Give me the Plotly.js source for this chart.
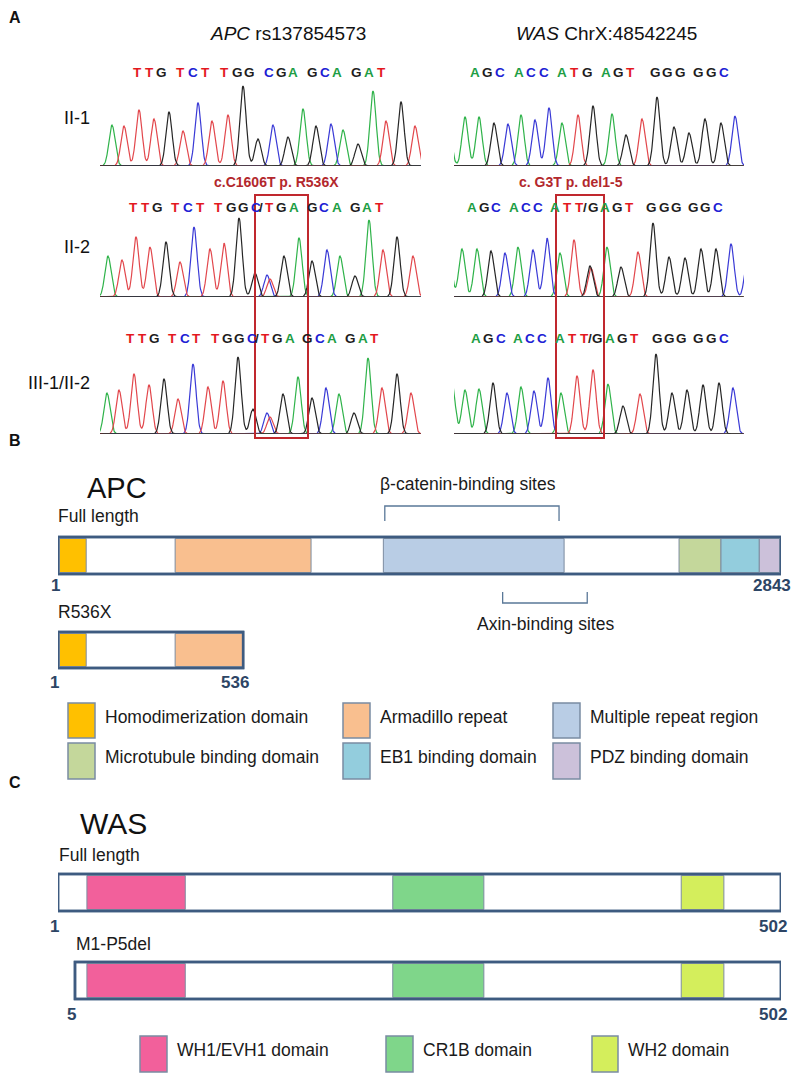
<!DOCTYPE html>
<html><head><meta charset="utf-8">
<script src="https://cdn.plot.ly/plotly-3.0.1.min.js"></script>
<style>html,body{margin:0;padding:0;background:#fff}#chart{width:800px;height:1079px}</style>
</head><body><div id="chart"></div>
<script>
// ================= DATA =================
// Panel A: chromatogram peaks (scan position, signal height, base call)
const apcII1Pos  = [12,24,39,54,69,83,98,112,128,143,158,173,188,203,216,231,243,258,273,286,301,315];
const apcII1Ht   = [41,40,56,47,54,35,63,45,51,80,27,41,29,57,40,42,36,22,75,45,64,40];
const apcII1Base = "ATTTGTCTTGGCGAGCAGATGT";

const apcII2Pos  = [8,22,36,50,66,80,94,110,124,139,155,167,170,184,199,212,227,240,255,269,283,297,313];
const apcII2Ht   = [41,37,60,50,55,35,70,48,54,79,24,22,18,41,59,36,47,41,21,77,47,60,41];
const apcII2Base = "ATTTGTCTTGGCTGAGCAGATGT";

const apcIII1Pos  = [7,19,34,49,64,78,93,108,123,138,153,167,170,183,198,212,226,239,254,268,282,297,311];
const apcIII1Ht   = [41,44,60,49,55,35,70,47,53,77,25,21,17,40,57,36,46,40,21,76,46,60,41];
const apcIII1Base = "ATTTGTCTTGGCTGAGCAGATGT";

const wasII1Pos  = [-5,11,25,40,54,67,81,95,108,124,139,158,172,188,203,220,235,251,267,281];
const wasII1Ht   = [34,49,49,43,42,51,46,58,43,51,60,52,31,47,69,39,33,47,43,50];
const wasII1Base = "AAAGCACCATGAGTGGGGGC";

const wasII2Pos  = [-5,8,23,37,51,64,79,93,106,120,136,137,153,167,184,199,215,231,247,262,277,294];
const wasII2Ht   = [40,48,48,46,44,50,47,59,44,57,31,29,50,30,45,74,40,39,48,48,53,45];
const wasII2Base = "AAAGCACCATGTAGTGGGGGCC";

const wasIII1Pos  = [-2,11,25,39,53,67,80,94,107,123,139,154,169,186,202,218,233,249,265,279];
const wasIII1Ht   = [52,44,45,51,41,47,43,56,41,58,64,50,28,40,80,41,44,49,51,46];
const wasIII1Base = "AAAGCACCATTAGTGGGGGC";

// Sequence calls shown above each trace
const apcSeqII1  = "TTG TCT TGG CGA GCA GAT";
const apcSeqII2  = "TTG TCT TGGC/TGA GCA GAT";
const apcSeqIII1 = "TTG TCT TGGC/TGA GCA GAT";
const wasSeqII1  = "AGC ACC ATG AGT  GGG GGC";
const wasSeqII2  = "AGC ACC ATT/GAGT  GGG GGC";
const wasSeqIII1 = "AGC ACC ATT/GAGT  GGG GGC";

const sampleLabels = ["II-1","II-2","III-1/II-2"];
const geneTitles = ["<i>APC</i> rs137854573","<i>WAS</i> ChrX:48542245"];
const mutationLabels = ["c.C1606T p. R536X","c. G3T p. del1-5"];
// mutation windows (scan units)
const apcMutWindow = [155,208];
const wasMutWindow = [102,150];

// Panel B: APC schematic (percent of full-length bar)
const apcDomainNames = ["Homodimerization domain","Armadillo repeat","Multiple repeat region",
                        "Microtubule binding domain","EB1 binding domain","PDZ binding domain"];
const apcDomainStart = [0.2,16.2,45.0,85.9,91.7,97.0];
const apcDomainEnd   = [3.9,35.0,70.0,91.7,97.0,99.8];
const apcTruncEnd = 25.6;
const betaCateninSites = [45.2,69.3];
const axinSites = [61.5,73.2];
const apcFullLabels = ["1","2843"];
const apcTruncLabels = ["1","536"];

// Panel C: WAS schematic
const wasDomainNames = ["WH1/EVH1 domain","CR1B domain","WH2 domain"];
const wasDomainStart = [4.0,46.3,86.2];
const wasDomainEnd   = [17.6,58.9,92.1];
const wasDelStart = 2.35;
const wasFullLabels = ["1","502"];
const wasDelLabels = ["5","502"];

// ================= STYLE / LAYOUT =================
const W=800,H=1079;
const FONT='"Liberation Sans", Arial, Helvetica, sans-serif';
const px=p=>p/W, py=p=>1-p/H;
const traceCol={A:'#2fb34a',C:'#3a3ad6',G:'#262626',T:'#e2474c'};
const letterCol={A:'#1e9e45',C:'#2020d4',G:'#1e1e1e',T:'#e3181e','/':'#1e1e1e'};
const apcColors=['#ffc000','#f9bf8f','#b9cde5','#c4d79b','#93cddd','#ccc1da'];
const wasColors=['#f2609b','#7fd68a','#d4ee5c'];
const barLine='#3e5b80', domLine='#7d8ca0', numCol='#2d4565', red='#c0282e';
const SIG=3.1;

const traces=[], shapes=[], annotations=[];
function ann(text,x,y,o={}){
  annotations.push(Object.assign({text,x:px(x),y:py(y),xref:'paper',yref:'paper',showarrow:false,
    xanchor:'left',yanchor:'middle',font:{family:FONT,size:17.5,color:'#1a1a1a'}},o));
}

// axes
const axes={
  xaxis:{domain:[px(100),px(421)],range:[0,321],visible:false,fixedrange:true,anchor:'y'},
  xaxis2:{domain:[px(454),px(744)],range:[0,290],visible:false,fixedrange:true,anchor:'y2'},
  xaxis3:{domain:[px(58),px(781)],range:[0,100],visible:false,fixedrange:true,anchor:'y7'},
  yaxis7:{domain:[0,1],range:[0,1],visible:false,fixedrange:true,anchor:'x3'}
};
const baselines=[166,297,434];
baselines.forEach((b,r)=>{
  [0,1].forEach(side=>{
    const idx=2*r+1+side;
    axes['yaxis'+(idx===1?'':idx)]={domain:[py(b),py(b-100)],range:[0,100],visible:false,fixedrange:true,anchor:side?'x2':'x'};
  });
});

function chrom(pos,ht,bases,xa,ya,xmin,xmax){
  for(const b of 'ACTG'){
    const xs=[],ys=[];
    for(let x=xmin;x<=xmax;x+=0.5){
      let y=0;
      for(let i=0;i<pos.length;i++){ if(bases[i]===b){const d=(x-pos[i])/SIG; y+=ht[i]*Math.exp(-0.5*d*d);} }
      xs.push(x); ys.push(y);
    }
    traces.push({type:'scatter',mode:'lines',x:xs,y:ys,xaxis:xa,yaxis:ya,
      line:{color:traceCol[b],width:1.2},hoverinfo:'skip',showlegend:false});
  }
  shapes.push({type:'line',xref:xa,yref:ya,x0:xa==='x'?3:1,x1:xa==='x'?320:289,y0:0,y1:0,
    line:{color:'#3a3a3a',width:1.5}});
}
chrom(apcII1Pos,apcII1Ht,apcII1Base,'x','y',-10,330);
chrom(wasII1Pos,wasII1Ht,wasII1Base,'x2','y2',-10,300);
chrom(apcII2Pos,apcII2Ht,apcII2Base,'x','y3',-10,330);
chrom(wasII2Pos,wasII2Ht,wasII2Base,'x2','y4',-10,300);
chrom(apcIII1Pos,apcIII1Ht,apcIII1Base,'x','y5',-10,330);
chrom(wasIII1Pos,wasIII1Ht,wasIII1Base,'x2','y6',-10,300);

function seqRow(str,x0,adv,sp,y){
  let x=x0, prev=null;
  for(const ch of str){
    if(ch===' '){x+=sp;continue;}
    if(prev!==null){ if(ch==='/') x+=5.5; else if(prev==='/') x+=8; else x+=adv; }
    ann('<b>'+ch+'</b>',x,y,{xanchor:'center',font:{family:FONT,size:13.5,color:letterCol[ch]}});
    prev=ch;
  }
}
seqRow(apcSeqII1,137,12.3,7,72);
seqRow(apcSeqII2,133,12.3,6,207);
seqRow(apcSeqIII1,130,12.2,6,338);
seqRow(wasSeqII1,475,12.5,6,72);
seqRow(wasSeqII2,472,12.2,5,207);
seqRow(wasSeqIII1,476,12.3,5,338);

// titles and labels panel A
ann('<b>A</b>',7,18,{font:{family:FONT,size:16,color:'#111'}});
ann(geneTitles[0],288,33,{xanchor:'center',font:{family:FONT,size:19,color:'#111'}});
ann(geneTitles[1],606,33,{xanchor:'center',font:{family:FONT,size:19,color:'#111'}});
[118,247,383].forEach((y,i)=>ann(sampleLabels[i],92,y,{xanchor:'right',font:{family:FONT,size:18,color:'#111'}}));
ann('<b>'+mutationLabels[0]+'</b>',276,182,{xanchor:'center',font:{family:FONT,size:14,color:'#b3282d'}});
ann('<b>'+mutationLabels[1]+'</b>',571,182,{xanchor:'center',font:{family:FONT,size:14,color:'#b3282d'}});
// mutation boxes
shapes.push({type:'rect',xref:'x',yref:'paper',x0:apcMutWindow[0],x1:apcMutWindow[1],y0:py(438),y1:py(195),line:{color:red,width:2},fillcolor:'rgba(0,0,0,0)'});
shapes.push({type:'rect',xref:'x2',yref:'paper',x0:wasMutWindow[0],x1:wasMutWindow[1],y0:py(438),y1:py(195),line:{color:red,width:2},fillcolor:'rgba(0,0,0,0)'});

// ---------- protein bars ----------
function proteinBar(xStart,xEnd,top,bot,starts,ends,colors){
  shapes.push({type:'rect',xref:'x3',yref:'paper',x0:xStart,x1:xEnd,y0:py(bot),y1:py(top),fillcolor:'#fff',line:{color:barLine,width:2.5},layer:'above'});
  for(let i=0;i<starts.length;i++){
    const s=Math.max(starts[i],xStart), e=Math.min(ends[i],xEnd);
    if(e<=s) continue;
    shapes.push({type:'rect',xref:'x3',yref:'paper',x0:s,x1:e,y0:py(bot-1.5),y1:py(top+1.5),fillcolor:colors[i],line:{color:domLine,width:1},layer:'above'});
  }
  shapes.push({type:'rect',xref:'x3',yref:'paper',x0:xStart,x1:xEnd,y0:py(bot),y1:py(top),fillcolor:'rgba(0,0,0,0)',line:{color:barLine,width:2.5},layer:'above'});
}
function numLabel(t,x,y){ann('<b>'+t+'</b>',x,y,{xanchor:'center',font:{family:FONT,size:17,color:numCol}});}

// Panel B
ann('<b>B</b>',7,440,{font:{family:FONT,size:16,color:'#111'}});
ann('APC',117,488,{xanchor:'center',font:{family:FONT,size:29,color:'#111'}});
ann('Full length',56,516);
ann('β-catenin-binding sites',468,484,{xanchor:'center'});
shapes.push({type:'path',xref:'x3',yref:'paper',
  path:`M ${betaCateninSites[0]},${py(521)} L ${betaCateninSites[0]},${py(506)} L ${betaCateninSites[1]},${py(506)} L ${betaCateninSites[1]},${py(521)}`,
  line:{color:'#5a7898',width:1.3}});
proteinBar(0,100,537,574,apcDomainStart,apcDomainEnd,apcColors);
numLabel(apcFullLabels[0],55,585); numLabel(apcFullLabels[1],772,585);
shapes.push({type:'path',xref:'x3',yref:'paper',
  path:`M ${axinSites[0]},${py(592)} L ${axinSites[0]},${py(603)} L ${axinSites[1]},${py(603)} L ${axinSites[1]},${py(592)}`,
  line:{color:'#5a7898',width:1.3}});
ann('Axin-binding sites',545,624,{xanchor:'center'});
ann('R536X',56,612);
proteinBar(0,apcTruncEnd,632,668,apcDomainStart,apcDomainEnd,apcColors);
numLabel(apcTruncLabels[0],54,682); numLabel(apcTruncLabels[1],235,682);

// APC legend
const legColX=[[68,95],[343,370],[553,580]];
const legRowY=[[703,738],[743,779]];
apcDomainNames.forEach((n,i)=>{
  const c=legColX[i%3], r=legRowY[Math.floor(i/3)];
  shapes.push({type:'rect',xref:'paper',yref:'paper',x0:px(c[0]),x1:px(c[1]),y0:py(r[1]),y1:py(r[0]),fillcolor:apcColors[i],line:{color:'#7a8ca3',width:1.5}});
  ann(n,c[1]+8,(r[0]+r[1])/2-4);
});

// Panel C
ann('<b>C</b>',7,782,{font:{family:FONT,size:16,color:'#111'}});
ann('WAS',114,823,{xanchor:'center',font:{family:FONT,size:30,color:'#111'}});
ann('Full length',57,855);
proteinBar(0,100,874,911,wasDomainStart,wasDomainEnd,wasColors);
numLabel(wasFullLabels[0],54,926); numLabel(wasFullLabels[1],773,926);
ann('M1-P5del',74,944);
proteinBar(wasDelStart,100,962,999,wasDomainStart,wasDomainEnd,wasColors);
numLabel(wasDelLabels[0],71,1014); numLabel(wasDelLabels[1],773,1014);
const wasLegX=[[140,167],[386,413],[592,618]];
wasDomainNames.forEach((n,i)=>{
  const c=wasLegX[i];
  shapes.push({type:'rect',xref:'paper',yref:'paper',x0:px(c[0]),x1:px(c[1]),y0:py(1072),y1:py(1036),fillcolor:wasColors[i],line:{color:'#7a8ca3',width:1.5}});
  ann(n,c[1]+8,1050);
});

const layout=Object.assign({width:W,height:H,margin:{l:0,r:0,t:0,b:0},paper_bgcolor:'#fff',plot_bgcolor:'rgba(0,0,0,0)',
  showlegend:false,shapes,annotations,hovermode:false},axes);
Plotly.newPlot('chart',traces,layout,{staticPlot:true,displayModeBar:false});
</script></body></html>
